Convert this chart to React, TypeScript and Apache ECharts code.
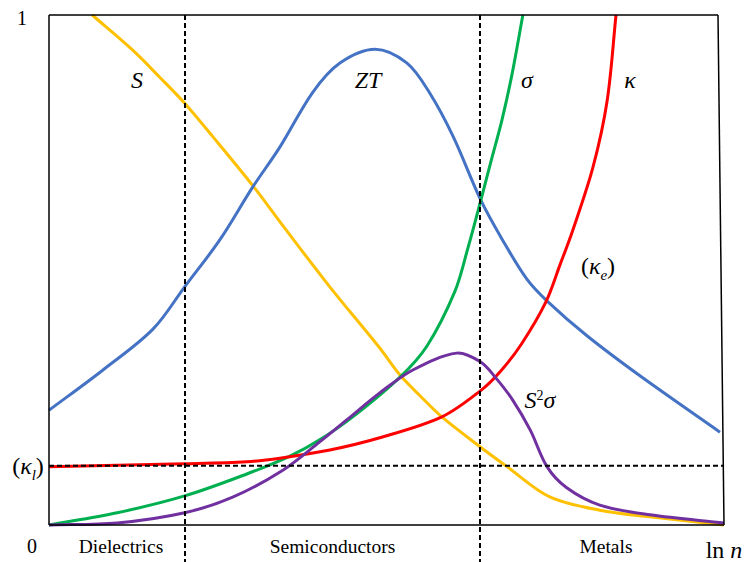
import React, { useEffect, useRef } from "react";
import * as echarts from "echarts";

// ln n runs 0..100 across the plot, each property is scaled 0..100 (top of the box = 1)
const seebeck: [number, number][] = [
  [6.4, 100], [12.4, 93.1], [16.4, 87.8], [20.1, 82.7], [24.3, 76.1], [30.1, 66.7],
  [34.7, 58.6], [41.6, 46.7], [49.0, 34.7], [52.0, 29.4], [55.0, 25.3], [58.2, 21.2],
  [63.9, 15.3], [67.9, 11.4], [74.2, 5.5], [81.6, 2.9], [89.0, 1.6], [100, 0],
];

const figureOfMerit: [number, number][] = [
  [0, 22.5], [8.0, 30.4], [15.4, 38.4], [20.1, 46.7], [25.3, 55.9],
  [30.1, 66.1], [34.2, 74.1], [39.1, 84.9], [43.1, 90.6], [48.3, 93.3], [53.0, 90.6],
  [56.4, 84.7], [59.9, 76.1], [63.9, 63.9], [67.1, 56.1], [70.8, 48.2], [73.8, 43.9],
  [79.7, 37.1], [87.6, 29.2], [99.4, 18.2],
];

const conductivity: [number, number][] = [
  [0, 0], [10.1, 2.4], [20.1, 5.7], [29.3, 10.0], [35.7, 13.5], [40.1, 16.7],
  [45.0, 21.2], [52.0, 29.0], [56.0, 35.1], [60.1, 45.7], [62.1, 54.5], [63.9, 63.3],
  [65.5, 71.4], [67.1, 79.4], [68.6, 88.4], [70.2, 100],
];

const thermalCond: [number, number][] = [
  [0, 11.4], [20.1, 12.0], [29.3, 12.4], [34.2, 13.1], [41.6, 14.7], [49.0, 17.1],
  [58.2, 21.2], [63.9, 26.3], [66.8, 30.0], [70.0, 35.5], [73.6, 43.7], [75.7, 51.0],
  [77.6, 57.8], [80.6, 70.2], [82.7, 83.3], [84.0, 100],
];

const powerFactor: [number, number][] = [
  [0, 0], [10.1, 0.4], [20.1, 2.4], [27.3, 5.5], [34.7, 10.8],
  [40.1, 16.3], [44.1, 20.6], [49.0, 25.9], [53.9, 30.4], [60.4, 33.7],
  [63.9, 32.0], [66.1, 29.0], [68.7, 24.5], [71.3, 18.6], [73.8, 11.4], [76.7, 7.3],
  [81.6, 3.9], [89.0, 2.0], [100, 0.4],
];

// region boundaries on ln n and the lattice thermal conductivity level
const regionBounds = [20.15, 63.85];
const latticeLevel = 11.6;
const regionNames = ["Dielectrics", "Semiconductors", "Metals"];

const SERIF = "'Liberation Serif', 'Times New Roman', serif";

// Smooth curve through the points (chord-length weighted cubic Béziers),
// positioned with the cartesian scale via api.coord.
function curve(name: string, data: [number, number][], color: string) {
  return {
    name,
    type: "custom",
    coordinateSystem: "cartesian2d",
    data,
    encode: { x: 0, y: 1 },
    clip: false,
    z: 3,
    renderItem: (params: any, api: any) => {
      if (params.dataIndex !== 0) return null;
      const p = data.map((d) => api.coord(d) as number[]);
      const dist = (a: number[], b: number[]) => Math.hypot(b[0] - a[0], b[1] - a[1]);
      let d = `M${p[0][0]},${p[0][1]}`;
      for (let i = 0; i < p.length - 1; i++) {
        const p1 = p[i];
        const p2 = p[i + 1];
        const d12 = dist(p1, p2);
        let m1: number[];
        let m2: number[];
        if (i > 0) {
          const p0 = p[i - 1];
          const s = dist(p0, p1) + d12;
          m1 = [(p2[0] - p0[0]) / s, (p2[1] - p0[1]) / s];
        } else {
          m1 = [(p2[0] - p1[0]) / d12, (p2[1] - p1[1]) / d12];
        }
        if (i + 2 < p.length) {
          const p3 = p[i + 2];
          const s = d12 + dist(p2, p3);
          m2 = [(p3[0] - p1[0]) / s, (p3[1] - p1[1]) / s];
        } else {
          m2 = [(p2[0] - p1[0]) / d12, (p2[1] - p1[1]) / d12];
        }
        const k = d12 / 3;
        d += ` C${p1[0] + m1[0] * k},${p1[1] + m1[1] * k} ${p2[0] - m2[0] * k},${p2[1] - m2[1] * k} ${p2[0]},${p2[1]}`;
      }
      return {
        type: "path",
        shape: { pathData: d },
        style: { fill: "none", stroke: color, lineWidth: 3, lineJoin: "round" },
      };
    },
  };
}

export default function App() {
  const ref = useRef<HTMLDivElement>(null);

  useEffect(() => {
    if (!ref.current) return;
    const chart = echarts.init(ref.current, null, { renderer: "svg" });
    chart.setOption({
      animation: false,
      backgroundColor: "#ffffff",
      grid: { left: 49, right: 21, top: 15, bottom: 37 },
      xAxis: { type: "value", min: 0, max: 100, show: false },
      yAxis: { type: "value", min: 0, max: 100, show: false },
      series: [
        curve("S", seebeck, "#FFC000"),
        curve("ZT", figureOfMerit, "#4472C4"),
        curve("sigma", conductivity, "#00B050"),
        curve("kappa", thermalCond, "#FF0000"),
        curve("S2sigma", powerFactor, "#7030A0"),
      ],
    });

    const px = (x: number, y: number) =>
      chart.convertToPixel({ gridIndex: 0 }, [x, y]) as number[];
    const [x0, yBottom] = px(0, 0);
    const [x1, yTop] = px(100, 100);
    const xTopRight = x1 - 6;
    const H = 562;

    const frame = { stroke: "#000", lineWidth: 1.5 };
    const dash = { stroke: "#000", lineWidth: 2, lineDash: [5, 3] };

    const text = (
      x: number,
      y: number,
      t: string,
      size: number,
      italic = false,
      rich?: any
    ) => ({
      type: "text",
      x,
      y,
      z: 10,
      style: {
        text: t,
        fontFamily: SERIF,
        fontSize: size,
        fontStyle: italic ? "italic" : "normal",
        fill: "#000",
        align: "center",
        verticalAlign: "middle",
        rich,
      },
    });

    const subRich = {
      p: { fontFamily: SERIF, fontSize: 24, fill: "#000", lineHeight: 30 },
      k: { fontFamily: SERIF, fontSize: 24, fontStyle: "italic", fill: "#000", lineHeight: 30 },
      sub: {
        fontFamily: SERIF,
        fontSize: 15,
        fontStyle: "italic",
        fill: "#000",
        lineHeight: 30,
        verticalAlign: "bottom",
        padding: [0, 0, -1, 0],
      },
    };
    const supRich = {
      s: { fontFamily: SERIF, fontSize: 24, fontStyle: "italic", fill: "#000", lineHeight: 30 },
      sup: {
        fontFamily: SERIF,
        fontSize: 14,
        fill: "#000",
        lineHeight: 30,
        verticalAlign: "top",
        padding: [3, 0, 0, 0],
      },
    };

    const dividers = regionBounds.map((b) => {
      const [bx] = px(b, 0);
      return { type: "line", z: 5, shape: { x1: bx, y1: yTop, x2: bx, y2: H }, style: dash };
    });
    const [, ly] = px(0, latticeLevel);

    const centers = [
      (x0 + px(regionBounds[0], 0)[0]) / 2 + 4,
      (px(regionBounds[0], 0)[0] + px(regionBounds[1], 0)[0]) / 2,
      (px(regionBounds[1], 0)[0] + x1) / 2 + 4,
    ];

    chart.setOption({
      graphic: [
        { type: "line", z: 6, shape: { x1: x0, y1: yTop, x2: x0, y2: yBottom }, style: frame },
        { type: "line", z: 6, shape: { x1: x0, y1: yTop, x2: xTopRight, y2: yTop }, style: frame },
        { type: "line", z: 6, shape: { x1: x0, y1: yBottom, x2: x1, y2: yBottom }, style: frame },
        { type: "line", z: 6, shape: { x1: xTopRight, y1: yTop, x2: x1, y2: yBottom }, style: frame },
        ...dividers,
        { type: "line", z: 5, shape: { x1: x0, y1: ly, x2: x1, y2: ly }, style: dash },
        text(22, 18, "1", 20),
        text(32, 546, "0", 20),
        ...regionNames.map((n, i) => text(centers[i], 546, n, 19.5)),
        {
          type: "text",
          x: 724,
          y: 550,
          z: 10,
          style: {
            text: "{a|ln }{b|n}",
            align: "center",
            verticalAlign: "middle",
            rich: {
              a: { fontFamily: SERIF, fontSize: 24, fill: "#000" },
              b: { fontFamily: SERIF, fontSize: 24, fontStyle: "italic", fill: "#000" },
            },
          },
        },
        text(137, 80, "S", 24, true),
        text(368, 80, "ZT", 24, true),
        text(527, 80, "σ", 24, true),
        text(630, 80, "κ", 24, true),
        text(598, 266, "{p|(}{k|κ}{sub|e}{p|)}", 24, false, subRich),
        text(28, 466, "{p|(}{k|κ}{sub|l}{p|)}", 24, false, subRich),
        text(540, 400, "{s|S}{sup|2}{s|σ}", 24, true, supRich),
      ],
    });

    return () => chart.dispose();
  }, []);

  return (
    <div
      ref={ref}
      style={{ position: "fixed", left: 0, top: 0, width: 745, height: 562, background: "#fff" }}
    />
  );
}
